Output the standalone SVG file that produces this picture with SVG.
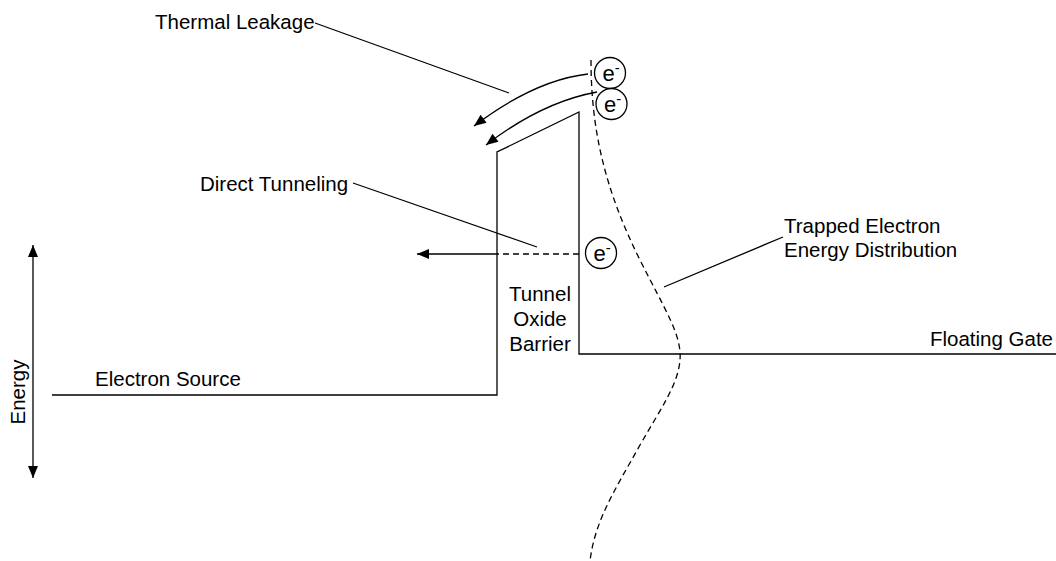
<svg xmlns="http://www.w3.org/2000/svg" width="1056" height="561" viewBox="0 0 1056 561">
<style>
  text { font-family: "Liberation Sans", Arial, sans-serif; font-size: 20.5px; fill: #000; }
  .ln { fill: none; stroke: #000; stroke-width: 1.3; }
  .dash { fill: none; stroke: #000; stroke-width: 1.3; stroke-dasharray: 6 4; }
  .circ { fill: #fff; stroke: #000; stroke-width: 1.3; }
  .el { font-size: 22px; }
  .sup { font-size: 15px; }
</style>
<defs>
  <marker id="arr" viewBox="0 0 12 10" refX="12" refY="5" markerWidth="13" markerHeight="10" markerUnits="userSpaceOnUse" orient="auto">
    <path d="M0,0 L12,5 L0,10 z" fill="#000"/>
  </marker>
  <marker id="arrStart" viewBox="0 0 12 10" refX="0" refY="5" markerWidth="13" markerHeight="10" markerUnits="userSpaceOnUse" orient="auto">
    <path d="M12,0 L0,5 L12,10 z" fill="#000"/>
  </marker>
</defs>
<rect width="1056" height="561" fill="#fff"/>

<g id="band">
  <path class="ln" d="M52,395 L497,395 L497,152 L579,112 L579,354 L1056,354"/>
</g>

<g id="distribution">
  <path class="dash" d="M591,60 C591,130 605,190 640,260 C665,310 682,335 680,360 C678,385 660,410 640,445 C615,490 595,520 590,561"/>
</g>

<g id="electron1">
  <circle class="circ" cx="610" cy="73" r="15.5"/>
  <text class="el" x="611" y="81" text-anchor="middle">e<tspan class="sup" dy="-8">-</tspan></text>
</g>
<g id="electron2">
  <circle class="circ" cx="611.5" cy="104" r="15.5"/>
  <text class="el" x="612.5" y="112" text-anchor="middle">e<tspan class="sup" dy="-8">-</tspan></text>
</g>
<g id="electron3">
  <circle class="circ" cx="601" cy="253" r="15.5"/>
  <text class="el" x="602" y="261" text-anchor="middle">e<tspan class="sup" dy="-8">-</tspan></text>
</g>

<g id="label-thermal"><text x="155" y="29">Thermal Leakage</text></g>
<g id="label-direct"><text x="200" y="191">Direct Tunneling</text></g>
<g id="label-source"><text x="95" y="386">Electron Source</text></g>
<g id="label-barrier">
  <text x="540" y="301" text-anchor="middle">Tunnel</text>
  <text x="540" y="326" text-anchor="middle">Oxide</text>
  <text x="540" y="351" text-anchor="middle">Barrier</text>
</g>
<g id="label-trapped">
  <text x="784" y="233">Trapped Electron</text>
  <text x="784" y="257">Energy Distribution</text>
</g>
<g id="label-gate"><text x="1053" y="346" text-anchor="end">Floating Gate</text></g>
<g id="label-energy"><text transform="translate(25,392) rotate(-90)" text-anchor="middle">Energy</text></g>

<g id="connectors">
  <path class="ln" d="M315,23 L509,93"/>
  <path class="ln" d="M353,183 L537,247"/>
  <path class="ln" d="M783,237 L664,287"/>
  <path class="ln" d="M588,74 Q535,80 474,126" marker-end="url(#arr)"/>
  <path class="ln" d="M597,92 Q542,102 486,145" marker-end="url(#arr)"/>
  <path class="ln" d="M497,254 L417,254" marker-end="url(#arr)"/>
  <path class="dash" d="M579,254 L497,254"/>
  <path class="ln" d="M33,245 L33,478" marker-start="url(#arrStart)" marker-end="url(#arr)"/>
</g>
</svg>
